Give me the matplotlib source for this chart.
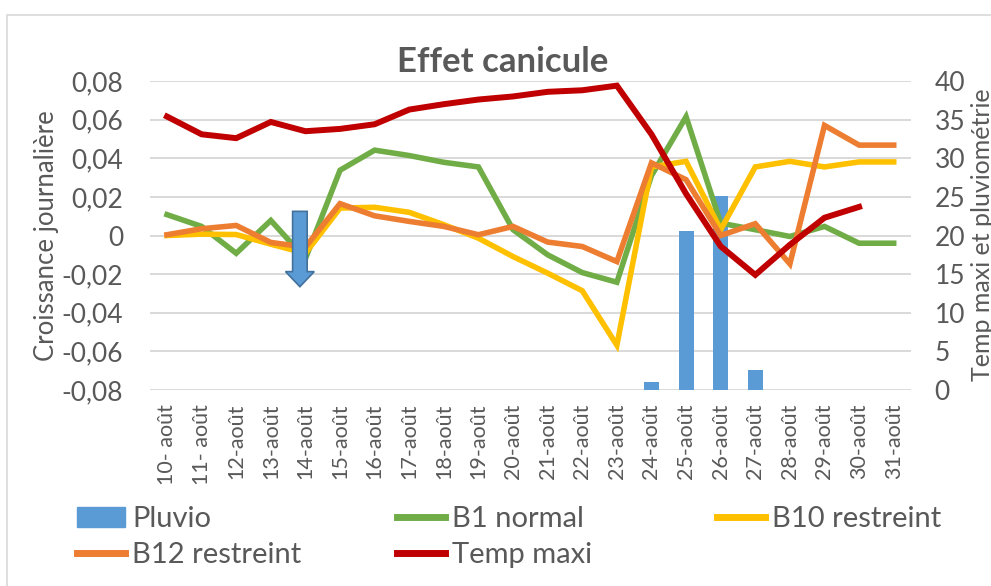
import matplotlib.pyplot as plt
import numpy as np
from matplotlib.patches import FancyArrow, Rectangle, Patch
from matplotlib.lines import Line2D
from matplotlib.ticker import FuncFormatter, MultipleLocator

# data
days = ['10- août', '11- août', '12-août', '13-août', '14-août', '15-août', '16-août',
        '17-août', '18-août', '19-août', '20-août', '21-août', '22-août', '23-août',
        '24-août', '25-août', '26-août', '27-août', '28-août', '29-août', '30-août', '31-août']
pluvio = [0, 0, 0, 0, 0, 0, 0, 0, 0, 0, 0, 0, 0, 0, 1.0, 20.6, 25.1, 2.6, 0, 0, 0, 0]
b1_normal = [0.0108, 0.0047, -0.0092, 0.0078, -0.012, 0.0338, 0.0442, 0.0414, 0.0379, 0.0355,
             0.003, -0.010, -0.0192, -0.0242, 0.031, 0.0615, 0.0064, 0.003, -0.0005, 0.0047,
             -0.004, -0.004]
b10_restreint = [0.0, 0.0007, 0.0005, -0.0045, -0.0092, 0.0142, 0.0146, 0.012, 0.0056, -0.0014,
                 -0.0109, -0.0195, -0.0286, -0.0568, 0.0355, 0.0384, 0.003, 0.0355, 0.0384, 0.0355,
                 0.0381, 0.0381]
b12_restreint = [0.0004, 0.0035, 0.0052, -0.0036, -0.006, 0.0165, 0.0102, 0.0073, 0.0047, 0.0004,
                 0.0047, -0.0034, -0.0057, -0.0135, 0.0376, 0.0289, 0.0, 0.0061, -0.0147, 0.057,
                 0.0468, 0.0468]
temp_maxi = [35.4, 33.1, 32.6, 34.7, 33.5, 33.8, 34.4, 36.3, 37.0, 37.6, 38.0, 38.6, 38.8, 39.4,
             33.1, 25.4, 18.6, 14.9, 18.8, 22.3, 23.7, np.nan]

BLUE = '#5b9bd5'
GREEN = '#70ad47'
YELLOW = '#ffc000'
ORANGE = '#ed7d31'
RED = '#c00000'
GREY = '#595959'
GRID = '#d9d9d9'

plt.rcParams['font.family'] = ['Lato', 'DejaVu Sans']

W, H = 991, 586
fig = plt.figure(figsize=(W / 100, H / 100), dpi=100)

# outer chart border
fig.patches.append(Rectangle((7 / W, -0.1), 1.2, 1 - 15 / H + 0.1, transform=fig.transFigure,
                             fill=False, ec=GRID, lw=1.2))

x = np.arange(len(days))
LW = 4.0

# bars on the right-hand scale (drawn first, lowest)
ax_bar = fig.add_axes([149.7 / W, 1 - 390 / H, (911 - 149.7) / W, (390 - 81) / H])
ax_bar.bar(x, pluvio, width=0.43, color=BLUE, zorder=2)
ax_bar.set_ylim(0, 40)
ax_bar.set_xlim(-0.5, len(days) - 0.5)
ax_bar.yaxis.set_major_locator(MultipleLocator(5))
ax_bar.grid(axis='y', color=GRID, lw=1.4, zorder=0)
ax_bar.set_axisbelow(True)
ax_bar.set_xticks(x)
ax_bar.set_xticklabels(days, rotation=90)
ax_bar.tick_params(axis='x', length=0, labelsize=15.5, labelcolor=GREY, pad=10)

# growth curves on the left-hand scale
ax_l = ax_bar.twinx()
ax_l.set_ylim(-0.08, 0.08)
ax_l.yaxis.set_major_locator(MultipleLocator(0.02))
ax_l.yaxis.set_major_formatter(FuncFormatter(
    lambda v, p: '0' if abs(v) < 1e-9 else ('%.2f' % v).replace('.', ',')))
ax_l.plot(x, b1_normal, color=GREEN, lw=LW, solid_joinstyle='miter', zorder=3)
ax_l.plot(x, b10_restreint, color=YELLOW, lw=LW, solid_joinstyle='miter', zorder=3)
ax_l.plot(x, b12_restreint, color=ORANGE, lw=LW, solid_joinstyle='miter', zorder=3)

# block arrow on 14-août
ax_l.add_patch(FancyArrow(3.84, 0.0125, 0, -0.039, width=0.42, head_width=0.83,
                          head_length=0.0078, length_includes_head=True,
                          fc=BLUE, ec='#41719c', lw=1.2, zorder=5))

# temperature on top
ax_t = ax_bar.twinx()
ax_t.set_ylim(0, 40)
ax_t.set_yticks([])
ax_t.plot(x, temp_maxi, color=RED, lw=LW + 0.3, solid_joinstyle='miter', zorder=4)

# twinx moves ticks around, so set the sides at the end
ax_bar.yaxis.tick_right()
ax_bar.tick_params(axis='y', length=0, labelsize=19, labelcolor=GREY, pad=17)
ax_l.yaxis.tick_left()
ax_l.tick_params(axis='y', length=0, labelsize=19, labelcolor=GREY, pad=19)

for a in (ax_bar, ax_l, ax_t):
    for s in a.spines.values():
        s.set_visible(False)

# texts
fig.text(503 / W, 1 - 62 / H, 'Effet canicule', ha='center', va='center',
         fontsize=25, fontweight='bold', color=GREY)
fig.text(47 / W, 1 - 236 / H, 'Croissance journalière', rotation=90, ha='center',
         va='center', fontsize=18.5, color=GREY)
fig.text(983 / W, 1 - 235 / H, 'Temp maxi et pluviométrie', rotation=90, ha='center',
         va='center', fontsize=18, color=GREY)

# legend, 3 columns in row order
def leg(handles, labels, xpx):
    lg = fig.legend(handles, labels, loc='upper left', bbox_to_anchor=(xpx / W, 1 - 506 / H),
                    frameon=False, fontsize=21, labelcolor=GREY, borderpad=0,
                    borderaxespad=0, handlelength=1.65, handleheight=0.7,
                    handletextpad=0.25, labelspacing=0.34)
    return lg

lw_leg = 5
leg([Patch(color=BLUE), Line2D([], [], color=ORANGE, lw=lw_leg)],
    ['Pluvio', 'B12 restreint'], 77)
leg([Line2D([], [], color=GREEN, lw=lw_leg), Line2D([], [], color=RED, lw=lw_leg)],
    ['B1 normal', 'Temp maxi'], 397)
leg([Line2D([], [], color=YELLOW, lw=lw_leg)], ['B10 restreint'], 717)

fig.savefig('out.png', dpi=100)
